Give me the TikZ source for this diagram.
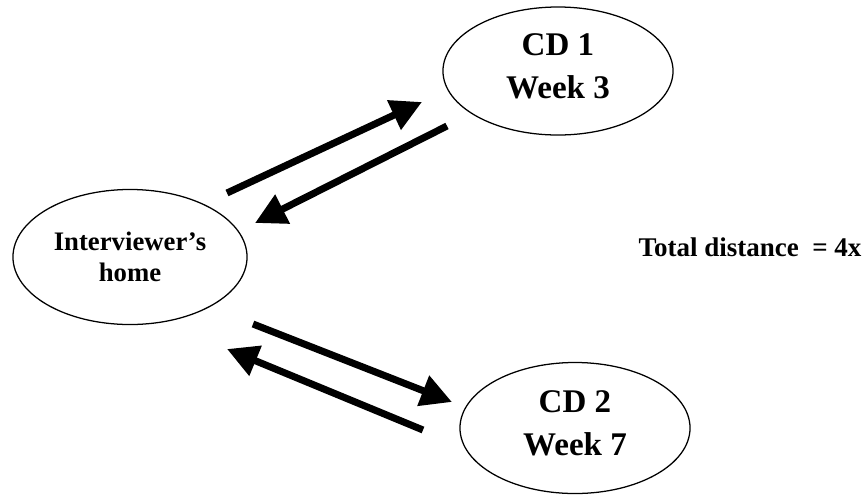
\documentclass[tikz,border=0pt]{standalone}
\usepackage{fontspec}
\setmainfont{Liberation Serif}
\usetikzlibrary{arrows.meta, shapes.geometric, positioning}

\begin{document}
\begin{tikzpicture}[x=0.025cm, y=-0.025cm,
    place/.style={ellipse, draw, line width=0.9pt, inner sep=0pt, align=center,
      font=\bfseries\fontsize{23.5}{30.6}\selectfont},
    trip/.style={line width=5pt, -{Triangle[length=22pt,width=22pt]}}]
  \useasboundingbox (0,0) rectangle (868,495);

  % places
  \node[place, minimum width=5.85cm, minimum height=3.375cm,
    font=\bfseries\fontsize{19}{22}\selectfont] (home) at (130,257) {Interviewer's\\home};
  \node[place, minimum width=5.75cm, minimum height=3.2cm] (cd1) at (558,71) {\\[-22pt]CD 1\\Week 3};
  \node[place, minimum width=5.75cm, minimum height=3.275cm] (cd2) at (575,428) {\\[-22pt]CD 2\\Week 7};
  \node[font=\bfseries\fontsize{19.2}{22}\selectfont] (total) at (750,247) {Total distance~ = 4x};

  % trips
  \coordinate (go1a) at (227,193);
  \coordinate (go1b) at (422,102);
  \coordinate (back1a) at (447,126);
  \coordinate (back1b) at (255,223);
  \coordinate (go2a) at (253,324);
  \coordinate (go2b) at (452,402);
  \coordinate (back2a) at (423,430);
  \coordinate (back2b) at (227,349);
  \draw[trip] (go1a) -- (go1b);
  \draw[trip] (back1a) -- (back1b);
  \draw[trip] (go2a) -- (go2b);
  \draw[trip] (back2a) -- (back2b);
\end{tikzpicture}
\end{document}
